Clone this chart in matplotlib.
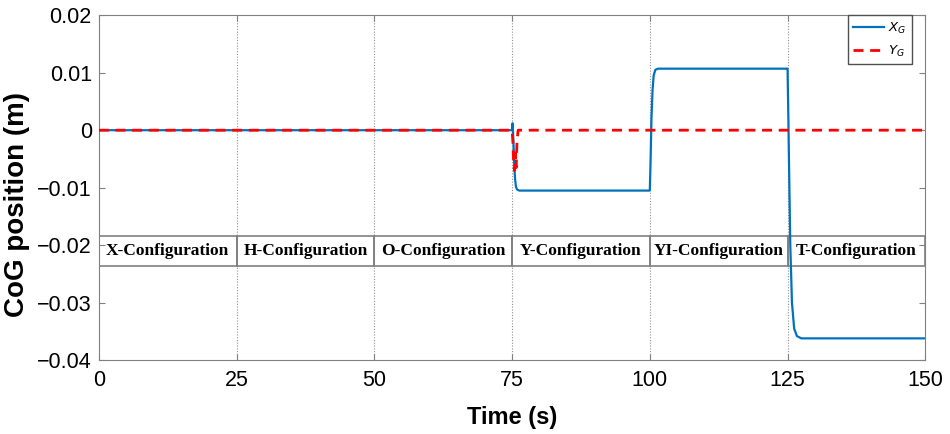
import matplotlib.pyplot as plt
from matplotlib.patches import Rectangle

# CoG trajectory
t_x = [0, 75, 75.1, 75.25, 75.4, 75.55, 75.7, 75.9, 76.3, 100, 100.15, 100.3,
       100.5, 100.7, 101, 101.5, 125, 125.15, 125.3, 125.5, 125.8, 126.2,
       126.7, 127.5, 150]
x_g = [0, 0, 0.0012, -0.002, -0.006, -0.0085, -0.0098, -0.0103, -0.0105,
       -0.0105, -0.005, 0.002, 0.007, 0.0095, 0.0105, 0.0107, 0.0107, 0.002,
       -0.008, -0.02, -0.030, -0.0345, -0.0358, -0.0362, -0.0362]
t_y = [0, 75, 75.15, 75.3, 75.45, 75.6, 75.75, 75.9, 76.1, 150]
y_g = [0, 0, -0.002, -0.006, -0.007, -0.004, -0.0065, -0.002, 0, 0]

configs = ["X-Configuration", "H-Configuration", "O-Configuration",
           "Y-Configuration", "YI-Configuration", "T-Configuration"]
config_start = [0, 25, 50, 75, 100, 125]

fig = plt.figure(figsize=(9.5, 4.34), dpi=100)
ax = fig.add_axes([0.104, 0.170, 0.870, 0.795])

for x0 in config_start[1:]:
    ax.axvline(x0, color="#909090", lw=0.8, ls=(0, (1, 1.5)), zorder=0)

for name, x0 in zip(configs, config_start):
    ax.add_patch(Rectangle((x0, -0.0237), 25, 0.0053, fill=False,
                           edgecolor="#808080", lw=1.2, zorder=1))
    ax.text(x0 + 12.5, -0.02105, name, ha="center", va="center",
            family="Liberation Serif", fontweight="bold", fontsize=12.5,
            zorder=2)

ax.plot(t_x, x_g, color="#0072BD", lw=1.6, label="$X_G$", zorder=3)
ax.plot(t_y, y_g, color="red", lw=2, ls=(0, (3.6, 2.4)), label="$Y_G$", zorder=4)

ax.set_xlim(0, 150)
ax.set_ylim(-0.04, 0.02)
ax.set_xticks([0, 25, 50, 75, 100, 125, 150])
ax.set_yticks([-0.04, -0.03, -0.02, -0.01, 0, 0.01, 0.02])
ax.set_yticklabels(["\u22120.04", "\u22120.03", "\u22120.02", "\u22120.01",
                    "0", "0.01", "0.02"])
ax.tick_params(labelsize=15.5, direction="in", color="#808080", length=4,
               top=True, right=True)
ax.tick_params(axis="x", pad=7)
ax.tick_params(axis="y", pad=5)
for lab in ax.get_xticklabels() + ax.get_yticklabels():
    lab.set_family("Liberation Sans")
for s in ax.spines.values():
    s.set_color("#808080")

ax.set_xlabel("Time (s)", fontsize=17, fontweight="bold", family="Liberation Sans")
ax.set_ylabel("CoG position (m)", fontsize=20, fontweight="bold",
              family="Liberation Sans")
ax.xaxis.set_label_coords(0.5, -0.132)
ax.yaxis.set_label_coords(-0.083, 0.45)

leg = ax.legend(loc="upper right", bbox_to_anchor=(0.984, 1.0), fontsize=9.5,
                fancybox=False, framealpha=1, handlelength=2.4,
                handletextpad=0.3, borderaxespad=0, labelspacing=0.6)
leg.get_frame().set_edgecolor("#505050")

fig.savefig("out.png", dpi=100)
